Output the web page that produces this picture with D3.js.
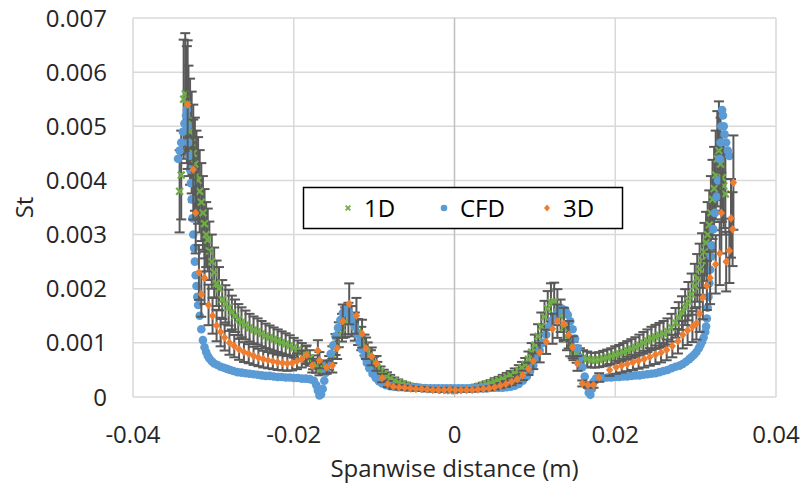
<!DOCTYPE html>
<html>
<head>
<meta charset="utf-8">
<script src="https://cdn.jsdelivr.net/npm/d3@7"></script>
<style>
  body { margin: 0; background: #fff; }
  text { font-family: "Open Sans", "Noto Sans", sans-serif; }
</style>
</head>
<body>
<div id="chart"></div>
<script>
// ---- data ----
var seriesNames = ["1D", "CFD", "3D"];
var xTicks = [-0.04, -0.02, 0, 0.02, 0.04];
var xTickLabels = ["-0.04", "-0.02", "0", "0.02", "0.04"];
var yTicks = [0, 0.001, 0.002, 0.003, 0.004, 0.005, 0.006, 0.007];
var yTickLabels = ["0", "0.001", "0.002", "0.003", "0.004", "0.005", "0.006", "0.007"];

// error bars are a percentage of the value
var errPct1D = 0.2;
var errPct3D = 0.22;

// [spanwise distance (m), St]
var data1D = [
  [-0.0342,0.0038],[-0.0340,0.0041],[-0.0337,0.0055],[-0.0335,0.0056],[-0.0333,0.0054],[-0.0331,0.0051],
  [-0.0329,0.0049],[-0.0327,0.0047],[-0.0325,0.0045],[-0.0323,0.0043],[-0.0321,0.0041],[-0.0319,0.0040],
  [-0.0317,0.0038],[-0.0315,0.0036],[-0.0313,0.0034],[-0.0311,0.0032],[-0.0309,0.0030],[-0.0307,0.0029],
  [-0.0305,0.0027],[-0.0302,0.0025],[-0.0299,0.0023],[-0.0296,0.0021],[-0.0293,0.0020],[-0.0289,0.0018],
  [-0.0285,0.00172],[-0.0281,0.00165],[-0.0277,0.00156],[-0.0273,0.00150],[-0.0269,0.00143],[-0.0265,0.00138],
  [-0.0260,0.00133],[-0.0255,0.00128],[-0.0250,0.00124],[-0.0245,0.00121],[-0.0240,0.00117],[-0.0235,0.00113],
  [-0.0230,0.00110],[-0.0225,0.00107],[-0.0220,0.00104],[-0.0215,0.00101],[-0.0210,0.00098],[-0.0205,0.00095],
  [-0.0200,0.00091],[-0.0195,0.00087],[-0.0190,0.00083],[-0.0185,0.00078],[-0.0180,0.00072],[-0.0176,0.00064],
  [-0.0172,0.00056],[-0.0168,0.00050],[-0.0164,0.00052],[-0.0160,0.00056],[-0.0156,0.00063],[-0.0152,0.00078],
  [-0.0148,0.00097],[-0.0144,0.00115],[-0.0140,0.00128],[-0.0136,0.00138],[-0.0132,0.00145],[-0.0128,0.00140],
  [-0.0124,0.00130],[-0.0120,0.00120],[-0.0116,0.00108],[-0.0112,0.00096],[-0.0108,0.00084],[-0.0104,0.00072],
  [-0.0100,0.00062],[-0.0096,0.00054],[-0.0092,0.00047],[-0.0088,0.00042],[-0.0084,0.00038],[-0.0080,0.00034],
  [-0.0075,0.00030],[-0.0070,0.00027],[-0.0065,0.00024],[-0.0060,0.00022],[-0.0055,0.00020],[-0.0050,0.00019],
  [-0.0045,0.00018],[-0.0040,0.00017],[-0.0035,0.00016],[-0.0030,0.00015],[-0.0025,0.00015],[-0.0020,0.00014],
  [-0.0015,0.00013],[-0.0010,0.00013],[-0.0005,0.00012],[0.0000,0.00012],[0.0005,0.00013],[0.0010,0.00014],
  [0.0015,0.00015],[0.0020,0.00016],[0.0025,0.00018],[0.0030,0.00020],[0.0035,0.00022],[0.0040,0.00024],
  [0.0045,0.00026],[0.0050,0.00029],[0.0055,0.00031],[0.0060,0.00034],[0.0065,0.00037],[0.0070,0.00040],
  [0.0075,0.00044],[0.0080,0.00049],[0.0084,0.00054],[0.0088,0.00060],[0.0092,0.00070],[0.0096,0.00083],
  [0.0100,0.00096],[0.0104,0.00112],[0.0108,0.00130],[0.0112,0.00148],[0.0116,0.00163],[0.0120,0.00175],
  [0.0124,0.00176],[0.0128,0.00166],[0.0132,0.00150],[0.0136,0.00128],[0.0140,0.00108],[0.0144,0.00094],
  [0.0148,0.00085],[0.0152,0.00079],[0.0156,0.00075],[0.0160,0.00072],[0.0165,0.00070],[0.0170,0.00068],
  [0.0175,0.00068],[0.0180,0.00069],[0.0185,0.00071],[0.0190,0.00073],[0.0195,0.00075],[0.0200,0.00078],
  [0.0205,0.00080],[0.0210,0.00083],[0.0215,0.00086],[0.0220,0.00089],[0.0225,0.00092],[0.0230,0.00096],
  [0.0235,0.00100],[0.0240,0.00104],[0.0245,0.00108],[0.0250,0.00111],[0.0255,0.00114],[0.0260,0.00117],
  [0.0265,0.00121],[0.0270,0.00128],[0.0275,0.00137],[0.0279,0.00146],[0.0283,0.00155],[0.0287,0.00166],
  [0.0291,0.00177],[0.0295,0.00190],[0.0299,0.00205],[0.0302,0.00220],[0.0305,0.00236],[0.0308,0.00252],
  [0.0311,0.00268],[0.0313,0.00285],[0.0315,0.00300],[0.0317,0.00318],[0.0319,0.00340],[0.0321,0.00365],
  [0.0323,0.00385],[0.0325,0.00410],[0.0327,0.00440],[0.0329,0.00455],[0.0331,0.00430],[0.0333,0.00405],
  [0.0335,0.00390],[0.0337,0.00375]
];

var dataCFD = [
  [-0.0344,0.00440],[-0.0342,0.00455],[-0.0340,0.00470],[-0.0338,0.00490],[-0.0336,0.00505],[-0.0334,0.00520],
  [-0.0333,0.00530],[-0.0332,0.00500],[-0.0331,0.00470],[-0.0330,0.00445],[-0.0329,0.00420],[-0.0328,0.00395],
  [-0.0327,0.00365],[-0.0326,0.00330],[-0.0325,0.00300],[-0.0324,0.00275],[-0.0323,0.00250],[-0.0322,0.00225],
  [-0.0321,0.00205],[-0.0320,0.00185],[-0.0319,0.00170],[-0.0317,0.00150],[-0.0315,0.00125],[-0.0313,0.00105],
  [-0.0311,0.00092],[-0.0309,0.00083],[-0.0307,0.00076],[-0.0305,0.00071],[-0.0302,0.00066],[-0.0299,0.00062],
  [-0.0295,0.00059],[-0.0291,0.00056],[-0.0287,0.00054],[-0.0283,0.00052],[-0.0279,0.00050],[-0.0275,0.00048],
  [-0.0270,0.00046],[-0.0265,0.00045],[-0.0260,0.00044],[-0.0255,0.00043],[-0.0250,0.00042],[-0.0245,0.00041],
  [-0.0240,0.00040],[-0.0235,0.00039],[-0.0230,0.00039],[-0.0225,0.00038],[-0.0220,0.00037],[-0.0215,0.00037],
  [-0.0210,0.00036],[-0.0205,0.00036],[-0.0200,0.00035],[-0.0195,0.00035],[-0.0190,0.00034],[-0.0185,0.00034],
  [-0.0180,0.00033],[-0.0175,0.00030],[-0.0172,0.00022],[-0.0170,0.00012],[-0.0168,0.00003],[-0.0166,0.00005],
  [-0.0164,0.00015],[-0.0162,0.00030],[-0.0160,0.00045],[-0.0157,0.00062],[-0.0154,0.00080],[-0.0151,0.00095],
  [-0.0148,0.00112],[-0.0145,0.00128],[-0.0142,0.00142],[-0.0139,0.00155],[-0.0136,0.00162],[-0.0133,0.00160],
  [-0.0130,0.00152],[-0.0127,0.00142],[-0.0124,0.00130],[-0.0121,0.00116],[-0.0118,0.00102],[-0.0115,0.00088],
  [-0.0112,0.00075],[-0.0109,0.00063],[-0.0106,0.00053],[-0.0102,0.00043],[-0.0098,0.00035],[-0.0094,0.00029],
  [-0.0090,0.00025],[-0.0085,0.00022],[-0.0080,0.00020],[-0.0075,0.00019],[-0.0070,0.00018],[-0.0065,0.00018],
  [-0.0060,0.00017],[-0.0055,0.00017],[-0.0050,0.00017],[-0.0045,0.00017],[-0.0040,0.00016],[-0.0035,0.00016],
  [-0.0030,0.00016],[-0.0025,0.00016],[-0.0020,0.00016],[-0.0015,0.00016],[-0.0010,0.00016],[-0.0005,0.00016],
  [0.0000,0.00016],[0.0005,0.00016],[0.0010,0.00016],[0.0015,0.00016],[0.0020,0.00016],[0.0025,0.00016],
  [0.0030,0.00016],[0.0035,0.00016],[0.0040,0.00016],[0.0045,0.00017],[0.0050,0.00017],[0.0055,0.00017],
  [0.0060,0.00017],[0.0065,0.00018],[0.0070,0.00019],[0.0075,0.00021],[0.0080,0.00024],[0.0085,0.00030],
  [0.0090,0.00038],[0.0094,0.00047],[0.0098,0.00058],[0.0102,0.00072],[0.0106,0.00086],[0.0110,0.00100],
  [0.0114,0.00115],[0.0118,0.00130],[0.0122,0.00142],[0.0126,0.00152],[0.0130,0.00160],[0.0134,0.00163],
  [0.0138,0.00160],[0.0141,0.00152],[0.0144,0.00140],[0.0147,0.00125],[0.0150,0.00108],[0.0153,0.00090],
  [0.0156,0.00072],[0.0159,0.00055],[0.0162,0.00038],[0.0165,0.00020],[0.0167,0.00008],[0.0169,0.00004],
  [0.0171,0.00015],[0.0173,0.00028],[0.0176,0.00034],[0.0180,0.00035],[0.0185,0.00035],[0.0190,0.00036],
  [0.0195,0.00036],[0.0200,0.00037],[0.0205,0.00037],[0.0210,0.00038],[0.0215,0.00038],[0.0220,0.00039],
  [0.0225,0.00040],[0.0230,0.00040],[0.0235,0.00041],[0.0240,0.00042],[0.0245,0.00043],[0.0250,0.00044],
  [0.0255,0.00046],[0.0260,0.00048],[0.0265,0.00050],[0.0270,0.00053],[0.0275,0.00056],[0.0280,0.00058],
  [0.0284,0.00061],[0.0288,0.00065],[0.0292,0.00070],[0.0295,0.00074],[0.0298,0.00078],[0.0301,0.00083],
  [0.0304,0.00090],[0.0306,0.00096],[0.0308,0.00102],[0.0310,0.00110],[0.0312,0.00120],[0.0313,0.00130],
  [0.0314,0.00145],[0.0315,0.00165],[0.0316,0.00185],[0.0317,0.00210],[0.0318,0.00235],[0.0319,0.00260],
  [0.0320,0.00280],[0.0322,0.00310],[0.0324,0.00340],[0.0326,0.00370],[0.0328,0.00400],[0.0330,0.00440],
  [0.0331,0.00470],[0.0332,0.00500],[0.0333,0.00530],[0.0334,0.00520],[0.0335,0.00500],[0.0336,0.00485],
  [0.0338,0.00470],[0.0340,0.00455],[0.0342,0.00445]
];

var data3D = [
  [-0.0332,0.0054],[-0.0325,0.0042],[-0.0322,0.0034],[-0.0318,0.0023],[-0.0315,0.0019],[-0.0311,0.0022],
  [-0.0306,0.0017],[-0.0301,0.00150],[-0.0296,0.00132],[-0.0291,0.00120],[-0.0286,0.00110],[-0.0280,0.00100],
  [-0.0274,0.00094],[-0.0268,0.00088],[-0.0262,0.00083],[-0.0256,0.00080],[-0.0250,0.00076],[-0.0244,0.00073],
  [-0.0238,0.00070],[-0.0232,0.00068],[-0.0226,0.00066],[-0.0220,0.00064],[-0.0214,0.00063],[-0.0208,0.00062],
  [-0.0202,0.00063],[-0.0196,0.00066],[-0.0190,0.00070],[-0.0184,0.00078],[-0.0177,0.00058],[-0.0170,0.00086],
  [-0.0168,0.00068],[-0.0159,0.00055],[-0.0152,0.00058],[-0.0146,0.00090],[-0.0139,0.00140],[-0.0131,0.00172],
  [-0.0122,0.00150],[-0.0115,0.00117],[-0.0110,0.00090],[-0.0103,0.00075],[-0.0097,0.00062],[-0.0090,0.00035],
  [-0.0083,0.00024],[-0.0076,0.00019],[-0.0069,0.00018],[-0.0062,0.00017],[-0.0055,0.00016],[-0.0048,0.00015],
  [-0.0041,0.00015],[-0.0034,0.00014],[-0.0027,0.00013],[-0.0020,0.00013],[-0.0013,0.00013],[-0.0006,0.00014],
  [0.0001,0.00013],[0.0008,0.00013],[0.0015,0.00013],[0.0022,0.00013],[0.0029,0.00014],[0.0036,0.00015],
  [0.0043,0.00016],[0.0050,0.00018],[0.0057,0.00021],[0.0064,0.00024],[0.0071,0.00028],[0.0078,0.00033],
  [0.0085,0.00040],[0.0092,0.00052],[0.0098,0.00066],[0.0106,0.00082],[0.0114,0.00102],[0.0122,0.00126],
  [0.0128,0.00140],[0.0136,0.00135],[0.0142,0.00115],[0.0147,0.00092],[0.0153,0.00062],[0.0159,0.00025],
  [0.0166,0.00022],[0.0173,0.00022],[0.0180,0.00036],[0.0193,0.00050],[0.0201,0.00055],[0.0208,0.00058],
  [0.0215,0.00061],[0.0222,0.00064],[0.0229,0.00067],[0.0236,0.00070],[0.0243,0.00074],[0.0250,0.00078],
  [0.0257,0.00082],[0.0264,0.00087],[0.0271,0.00094],[0.0278,0.00103],[0.0284,0.00115],[0.0290,0.00123],
  [0.0296,0.00130],[0.0301,0.00136],[0.0305,0.00154],[0.0309,0.00184],[0.0314,0.00206],[0.0318,0.00220],
  [0.0325,0.00245],[0.0330,0.00265],[0.0332,0.00340],[0.0338,0.00250],[0.0342,0.00270],[0.0344,0.00330],
  [0.0346,0.00310],[0.0347,0.00396]
];

// ---- chart ----
var width = 804, height = 488;
var margin = {left: 133, right: 28, top: 18, bottom: 91};

var svg = d3.select("#chart").append("svg")
    .attr("width", width).attr("height", height);

svg.append("rect").attr("width", width).attr("height", height).attr("fill", "#fff");

var x = d3.scaleLinear().domain([-0.04, 0.04]).range([margin.left, width - margin.right]);
var y = d3.scaleLinear().domain([0, 0.007]).range([height - margin.bottom, margin.top]);

var grid = svg.append("g");
grid.selectAll(".hgrid").data(yTicks).enter().append("line")
    .attr("x1", x(-0.04)).attr("x2", x(0.04))
    .attr("y1", function(d) { return y(d); }).attr("y2", function(d) { return y(d); })
    .attr("stroke", "#d9d9d9").attr("stroke-width", 1.5);
grid.selectAll(".vgrid").data(xTicks).enter().append("line")
    .attr("y1", y(0)).attr("y2", y(0.007))
    .attr("x1", function(d) { return x(d); }).attr("x2", function(d) { return x(d); })
    .attr("stroke", function(d) { return d === 0 ? "#bfbfbf" : "#d9d9d9"; })
    .attr("stroke-width", 1.5);

// tick labels
svg.selectAll(".ylab").data(yTicks).enter().append("text")
    .attr("x", 107).attr("y", function(d) { return y(d); })
    .attr("dy", "0.36em").attr("text-anchor", "end")
    .attr("font-size", 24).attr("fill", "#262626")
    .text(function(d, i) { return yTickLabels[i]; });

svg.selectAll(".xlab").data(xTicks).enter().append("text")
    .attr("x", function(d) { return x(d); }).attr("y", 434)
    .attr("dy", "0.36em").attr("text-anchor", "middle")
    .attr("font-size", 24).attr("fill", "#262626")
    .text(function(d, i) { return xTickLabels[i]; });

svg.append("text").attr("x", x(0)).attr("y", 468).attr("dy", "0.36em")
    .attr("text-anchor", "middle").attr("font-size", 24).attr("fill", "#262626")
    .text("Spanwise distance (m)");

svg.append("text").attr("transform", "translate(24," + y(0.0035) + ") rotate(-90)")
    .attr("dy", "0.36em").attr("text-anchor", "middle")
    .attr("font-size", 24).attr("fill", "#262626")
    .text("St");

var barColor = "#595959";
var capHalf = 5;

function errorBars(data, pct) {
    var g = svg.append("g").attr("stroke", barColor).attr("stroke-width", 2);
    g.selectAll("line.v").data(data).enter().append("line")
        .attr("x1", function(d) { return x(d[0]); }).attr("x2", function(d) { return x(d[0]); })
        .attr("y1", function(d) { return y(d[1] * (1 - pct)); })
        .attr("y2", function(d) { return y(d[1] * (1 + pct)); });
    [1 - pct, 1 + pct].forEach(function(f) {
        g.selectAll(null).data(data).enter().append("line")
            .attr("x1", function(d) { return x(d[0]) - capHalf; })
            .attr("x2", function(d) { return x(d[0]) + capHalf; })
            .attr("y1", function(d) { return y(d[1] * f); })
            .attr("y2", function(d) { return y(d[1] * f); });
    });
}

var green = "#70ad47", blue = "#5b9bd5", orange = "#ed7d31";
var xMark = d3.symbol().type(d3.symbolX).size(32);
var diamond = "M0,-4.3L3.7,0L0,4.3L-3.7,0Z";

// 1D
errorBars(data1D, errPct1D);
svg.append("g").selectAll("path").data(data1D).enter().append("path")
    .attr("d", xMark)
    .attr("transform", function(d) { return "translate(" + x(d[0]) + "," + y(d[1]) + ")"; })
    .attr("stroke", green).attr("stroke-width", 2.2).attr("fill", "none");

// CFD
svg.append("g").selectAll("circle").data(dataCFD).enter().append("circle")
    .attr("cx", function(d) { return x(d[0]); })
    .attr("cy", function(d) { return y(d[1]); })
    .attr("r", 4.3).attr("fill", blue);

// 3D
errorBars(data3D, errPct3D);
svg.append("g").selectAll("path").data(data3D).enter().append("path")
    .attr("d", diamond)
    .attr("transform", function(d) { return "translate(" + x(d[0]) + "," + y(d[1]) + ")"; })
    .attr("fill", orange);

// legend
var legend = svg.append("g");
legend.append("rect").attr("x", 303.5).attr("y", 187.5).attr("width", 319).attr("height", 41)
    .attr("fill", "#fff").attr("stroke", "#000").attr("stroke-width", 1.5);

var legendX = [348, 444, 547];
var lg = legend.selectAll("g.item").data(seriesNames).enter().append("g")
    .attr("transform", function(d, i) { return "translate(" + legendX[i] + ",208)"; });
lg.each(function(d, i) {
    var g = d3.select(this);
    if (i === 0) {
        g.append("path").attr("d", d3.symbol().type(d3.symbolX).size(16))
            .attr("stroke", green).attr("stroke-width", 1.8).attr("fill", "none");
    } else if (i === 1) {
        g.append("circle").attr("r", 3.3).attr("fill", blue);
    } else {
        g.append("path").attr("d", "M0,-3.6L3,0L0,3.6L-3,0Z").attr("fill", orange);
    }
    g.append("text").attr("x", 16).attr("dy", "0.36em")
        .attr("font-size", 24).attr("fill", "#000").text(d);
});
</script>
</body>
</html>
